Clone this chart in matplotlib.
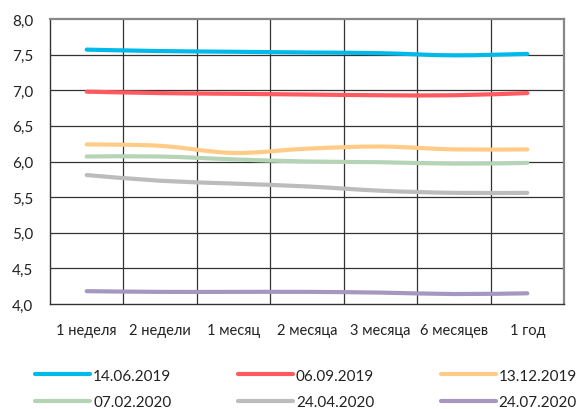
import matplotlib
matplotlib.use("Agg")
import matplotlib.pyplot as plt
from matplotlib.path import Path
from matplotlib.patches import PathPatch
from matplotlib.lines import Line2D

plt.rcParams['font.family'] = ['Lato', 'DejaVu Sans']

categories = ["1 неделя", "2 недели", "1 месяц", "2 месяца", "3 месяца", "6 месяцев", "1 год"]
series_names = ["14.06.2019", "06.09.2019", "13.12.2019", "07.02.2020", "24.04.2020", "24.07.2020"]
s_140619 = [7.57, 7.55, 7.54, 7.53, 7.52, 7.49, 7.51]
s_060919 = [6.98, 6.96, 6.95, 6.94, 6.93, 6.93, 6.96]
s_131219 = [6.24, 6.22, 6.12, 6.18, 6.21, 6.17, 6.17]
s_070220 = [6.07, 6.07, 6.03, 6.00, 5.99, 5.97, 5.98]
s_240420 = [5.81, 5.73, 5.69, 5.65, 5.59, 5.56, 5.56]
s_240720 = [4.18, 4.17, 4.17, 4.17, 4.16, 4.14, 4.15]
all_series = [s_140619, s_060919, s_131219, s_070220, s_240420, s_240720]
colors = ["#00B9EB", "#FF5A5F", "#FFCC88", "#B5D3B5", "#BCBCBC", "#A597C0"]
yticks = [4.0, 4.5, 5.0, 5.5, 6.0, 6.5, 7.0, 7.5, 8.0]


def smooth_path(xs, ys):
    # Catmull-Rom style Bezier through the data points (Excel-like smoothing)
    verts = [(xs[0], ys[0])]
    codes = [Path.MOVETO]
    n = len(xs)
    for i in range(n - 1):
        x0, y0 = (xs[i - 1], ys[i - 1]) if i > 0 else (xs[i], ys[i])
        x1, y1 = xs[i], ys[i]
        x2, y2 = xs[i + 1], ys[i + 1]
        x3, y3 = (xs[i + 2], ys[i + 2]) if i + 2 < n else (xs[i + 1], ys[i + 1])
        t = 1 / 6.0
        c1 = (x1 + (x2 - x0) * t, y1 + (y2 - y0) * t)
        c2 = (x2 - (x3 - x1) * t, y2 - (y3 - y1) * t)
        verts += [c1, c2, (x2, y2)]
        codes += [Path.CURVE4] * 3
    return Path(verts, codes)


fig = plt.figure(figsize=(5.88, 4.10), dpi=100)
ax = fig.add_axes([50 / 588, 1 - 305 / 410, 514 / 588, 285 / 410])

xs = list(range(len(categories)))
for vals, col in zip(all_series, colors):
    p = PathPatch(smooth_path(xs, vals), facecolor="none", edgecolor=col,
                  lw=3.0, capstyle="round", joinstyle="round", zorder=3)
    ax.add_patch(p)

ax.set_xlim(-0.5, len(categories) - 0.5)
ax.set_ylim(4.0, 8.0)
ax.set_yticks(yticks)
ax.set_yticklabels([f"{v:.1f}".replace(".", ",") for v in yticks], fontsize=11, color="#222222")
ax.set_xticks(xs)
ax.set_xticklabels(categories, fontsize=10.5, color="#222222")
ax.tick_params(axis="both", length=0)
ax.tick_params(axis="x", pad=14)
ax.tick_params(axis="y", pad=12)

for y in yticks[1:-1]:
    ax.axhline(y, color="#333333", lw=0.9, zorder=1)
for b in range(1, len(categories)):
    ax.axvline(b - 0.5, color="#333333", lw=0.9, zorder=1)

for side in ["left", "bottom"]:
    ax.spines[side].set_color("#333333")
    ax.spines[side].set_linewidth(1.0)
for side in ["top", "right"]:
    ax.spines[side].set_color("#888888")
    ax.spines[side].set_linewidth(1.6)

# legend filled row by row (3 columns, 2 rows)
handles = [Line2D([], [], color=c, lw=3.0, solid_capstyle="round") for c in colors]
order = [0, 3, 1, 4, 2, 5]
fig.legend([handles[i] for i in order], [series_names[i] for i in order],
           loc="lower left", ncol=3, mode="expand",
           bbox_to_anchor=(35 / 588, 0.0, 542 / 588, 48 / 410),
           frameon=False, fontsize=11, handlelength=3.6, handletextpad=0.2,
           labelspacing=0.8, borderaxespad=0.0, borderpad=0.0,
           labelcolor="#222222")

fig.savefig("out.png", dpi=100, facecolor="white")
